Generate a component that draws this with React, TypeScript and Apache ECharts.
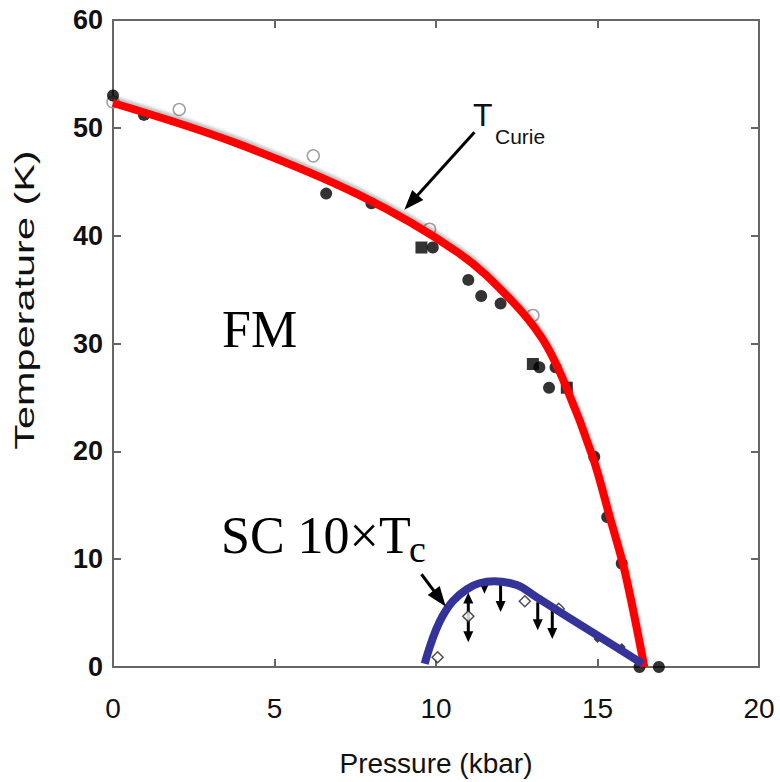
import React, { useEffect, useRef } from "react";
import * as echarts from "echarts";

// FM phase: Curie temperature measurements (pressure kbar, temperature K)
const filledCircles: number[][] = [
  [0, 53.0], [0.96, 51.2], [6.6, 43.9], [8.0, 43.0], [9.9, 38.9], [11.0, 35.9],
  [11.4, 34.4], [12.0, 33.7], [13.2, 27.8], [13.7, 27.8], [13.5, 25.9],
  [14.9, 19.5], [15.3, 13.9], [15.75, 9.6], [16.3, 0], [16.9, 0],
];
const openCircles: number[][] = [
  [0, 52.4], [2.05, 51.7], [6.2, 47.4], [9.8, 40.6], [13.0, 32.6],
];
const filledSquares: number[][] = [
  [9.55, 38.9], [13.0, 28.1], [14.05, 25.9],
];
// T_Curie guide curve
const curieCurve: number[][] = [
  [0, 52.3], [3.7, 48.7], [7.6, 43.8], [10.7, 38.4], [12.3, 34.1],
  [13.3, 30.4], [14.0, 26.2], [14.85, 19.5], [15.4, 13.7], [15.85, 8.8], [16.45, 0],
];
// SC: 10 x Tc
const scDiamonds: number[][] = [
  [10.05, 0.9], [11.0, 4.7], [12.75, 6.1], [13.8, 5.4],
];
const scSmall: number[][] = [
  [15.0, 2.6], [15.3, 2.3], [15.75, 1.85],
];
// vertical limit arrows: [x, yFrom, x, yTo]
const scArrows: number[][] = [
  [11.0, 4.7, 11.0, 6.9], [11.0, 4.7, 11.0, 2.3], [11.5, 8.0, 11.5, 6.8],
  [12.0, 8.0, 12.0, 5.1], [13.15, 6.0, 13.15, 3.4], [13.6, 5.5, 13.6, 2.6],
];
const scCurve: number[][] = [
  [9.65, 0.3], [10.2, 4.7], [10.95, 7.2], [11.8, 7.95], [12.5, 7.6],
  [13.1, 6.5], [14.05, 4.7], [15.07, 2.8], [16.4, 0.3],
];
// annotation arrows: [xFrom, yFrom, xTo, yTo]
const annotationArrows: number[][] = [
  [11.19, 49.6, 9.02, 42.4],
  [9.55, 8.6, 10.3, 5.6],
];

const xTicks = { min: 0, max: 20, interval: 5 };
const yTicks = { min: 0, max: 60, interval: 10 };

function arrowRenderer(lineW: number, headL: number, headW: number) {
  return (_params: any, api: any) => {
    const p1 = api.coord([api.value(0), api.value(1)]);
    const p2 = api.coord([api.value(2), api.value(3)]);
    const dx = p2[0] - p1[0];
    const dy = p2[1] - p1[1];
    const len = Math.hypot(dx, dy) || 1;
    const ux = dx / len;
    const uy = dy / len;
    const bx = p2[0] - ux * headL;
    const by = p2[1] - uy * headL;
    const nx = -uy;
    const ny = ux;
    return {
      type: "group",
      children: [
        {
          type: "line",
          shape: { x1: p1[0], y1: p1[1], x2: bx + ux, y2: by + uy },
          style: { stroke: "#000", lineWidth: lineW },
        },
        {
          type: "polygon",
          shape: {
            points: [
              [p2[0], p2[1]],
              [bx + (nx * headW) / 2, by + (ny * headW) / 2],
              [bx - (nx * headW) / 2, by - (ny * headW) / 2],
            ],
          },
          style: { fill: "#000" },
        },
      ],
    };
  };
}

const axisColor = "#666";
const sans = "Liberation Sans, Arial, sans-serif";
const serif = "Liberation Serif, Times New Roman, serif";

export default function App() {
  const ref = useRef<HTMLDivElement>(null);
  useEffect(() => {
    if (!ref.current) return;
    const chart = echarts.init(ref.current, null, { renderer: "svg" });
    const frameAxis = {
      axisLine: { show: true, onZero: false, lineStyle: { color: axisColor, width: 2 } },
      axisTick: { show: true, inside: true, length: 8, lineStyle: { color: axisColor, width: 2 } },
      splitLine: { show: false },
    };
    chart.setOption({
      animation: false,
      backgroundColor: "#fff",
      grid: { left: 113, right: 21, top: 20, bottom: 114 },
      xAxis: [
        {
          type: "value", ...xTicks, position: "bottom", ...frameAxis,
          axisLabel: { fontSize: 28, color: "#111", margin: 27, fontFamily: sans },
          name: "Pressure (kbar)", nameLocation: "middle", nameGap: 82,
          nameTextStyle: { fontSize: 28, color: "#111", fontFamily: sans },
        },
        {
          type: "value", ...xTicks, position: "top", ...frameAxis,
          axisLabel: { show: false },
        },
      ],
      yAxis: [
        {
          type: "value", ...yTicks, position: "left", ...frameAxis,
          axisLabel: { fontSize: 27, fontWeight: "bold", color: "#111", margin: 10, fontFamily: sans },
        },
        {
          type: "value", ...yTicks, position: "right", ...frameAxis,
          axisLabel: { show: false },
        },
      ],
      graphic: [
        {
          type: "text", x: 24, y: 300, rotation: Math.PI / 2, scaleX: 1.48,
          style: { text: "Temperature (K)", fontSize: 28, fontFamily: sans, fill: "#111", align: "center", verticalAlign: "middle" },
        },
        {
          type: "text", x: 473, y: 115,
          style: { text: "T", fontSize: 32, fontFamily: sans, fill: "#111", align: "left", verticalAlign: "middle" },
        },
        {
          type: "text", x: 495, y: 136,
          style: { text: "Curie", fontSize: 21, fontFamily: sans, fill: "#111", align: "left", verticalAlign: "middle" },
        },
        {
          type: "text", x: 222, y: 329,
          style: { text: "FM", fontSize: 52, fontFamily: serif, fill: "#000", align: "left", verticalAlign: "middle" },
        },
        {
          type: "text", x: 221, y: 535,
          style: { text: "SC 10×T", fontSize: 52, fontFamily: serif, fill: "#000", align: "left", verticalAlign: "middle" },
        },
        {
          type: "text", x: 409, y: 549,
          style: { text: "c", fontSize: 38, fontFamily: serif, fill: "#000", align: "left", verticalAlign: "middle" },
        },
      ],
      series: [
        {
          type: "scatter", data: openCircles, symbol: "circle", symbolSize: 12, z: 2,
          itemStyle: { color: "#fff", borderColor: "#888", borderWidth: 1.5 },
        },
        {
          type: "scatter", data: filledCircles, symbol: "circle", symbolSize: 12, z: 2,
          itemStyle: { color: "#000" },
        },
        {
          type: "scatter", data: filledSquares, symbol: "rect", symbolSize: 12, z: 2,
          itemStyle: { color: "#000" },
        },
        {
          type: "custom", data: scArrows, z: 3, renderItem: arrowRenderer(3, 11, 10),
          encode: { x: [0, 2], y: [1, 3] },
        },
        {
          type: "scatter", data: scDiamonds, symbol: "diamond", symbolSize: 11, z: 4,
          itemStyle: { color: "#fff", borderColor: "#222", borderWidth: 1.5 },
        },
        {
          type: "scatter", data: scSmall, symbol: "diamond", symbolSize: 8, z: 4,
          itemStyle: { color: "#111" },
        },
        {
          type: "line", data: curieCurve, smooth: 0.35, showSymbol: false, symbol: "none", z: 5,
          lineStyle: { color: "#ff0000", width: 8, shadowColor: "rgba(0,0,0,0.25)", shadowBlur: 3, shadowOffsetY: -3 },
        },
        {
          type: "line", data: scCurve, smooth: 0.4, showSymbol: false, symbol: "none", z: 6,
          lineStyle: { color: "#333399", width: 8 },
        },
        {
          type: "custom", data: annotationArrows, z: 7, renderItem: arrowRenderer(3, 20, 15),
          encode: { x: [0, 2], y: [1, 3] },
        },
      ],
    });
    return () => chart.dispose();
  }, []);
  return <div ref={ref} style={{ width: 780, height: 782, position: "absolute", left: 0, top: 0 }} />;
}
